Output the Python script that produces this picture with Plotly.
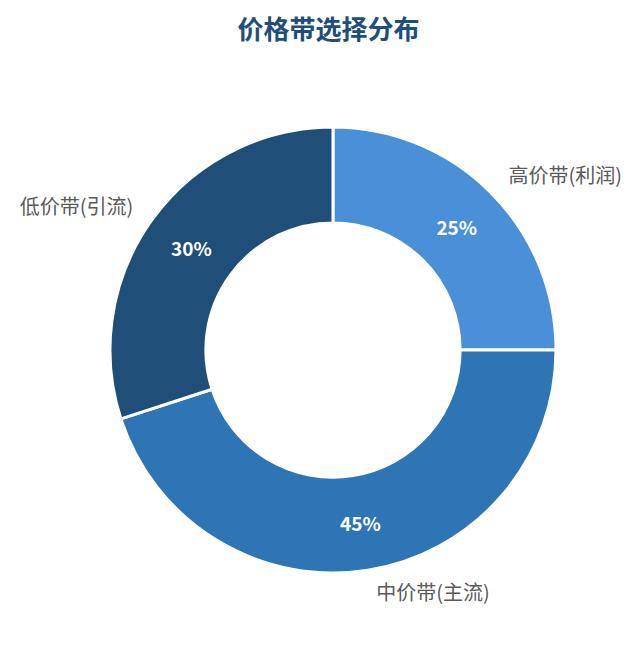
import plotly.graph_objects as go

# 价格带选择分布
labels = ['高价带(利润)', '中价带(主流)', '低价带(引流)']
values = [25, 45, 30]
colors = ['#4A90D9', '#2E75B6', '#1F4E79']

font_cn = 'Noto Sans CJK SC, Microsoft YaHei, sans-serif'
label_font = dict(color='#595959', size=20, family=font_cn)

# inner percentages
inner = go.Pie(
    labels=labels, values=values, hole=0.57, sort=False, direction='clockwise',
    marker=dict(colors=colors, line=dict(color='white', width=3)),
    textinfo='percent', textposition='inside', insidetextorientation='horizontal',
    texttemplate='%{percent:.0%}',
    textfont=dict(color='white', size=19, family=font_cn, weight='bold'),
    domain=dict(x=[0.1591, 0.8549], y=[0.124, 0.8155]),
    automargin=False, showlegend=False, hoverinfo='label+percent',
)

# outside category labels (transparent rings, so labels sit a little further out)
outer_side = go.Pie(
    labels=labels, values=values, hole=0.6, sort=False, direction='clockwise',
    marker=dict(colors=['rgba(0,0,0,0)'] * 3, line=dict(width=0)),
    texttemplate=['%{label}', '', '%{label}'], textposition='outside',
    textfont=label_font,
    domain=dict(x=[0.1357, 0.8783], y=[0.1008, 0.8388]),
    automargin=False, showlegend=False, hoverinfo='skip',
)
outer_bottom = go.Pie(
    labels=labels, values=values, hole=0.6, sort=False, direction='clockwise',
    marker=dict(colors=['rgba(0,0,0,0)'] * 3, line=dict(width=0)),
    texttemplate=['', '%{label}', ''], textposition='outside',
    textfont=label_font,
    domain=dict(x=[0.1482, 0.8658], y=[0.1132, 0.8264]),
    automargin=False, showlegend=False, hoverinfo='skip',
)

fig = go.Figure([inner, outer_side, outer_bottom])
fig.update_layout(
    width=641, height=645,
    margin=dict(l=0, r=0, t=0, b=0),
    paper_bgcolor='white',
    title=dict(text='<b>价格带选择分布</b>', x=0.5, y=0.966, xanchor='center', yanchor='middle',
               font=dict(size=26, color='#1F4E79', family=font_cn)),
)
fig.write_html('out.html')
